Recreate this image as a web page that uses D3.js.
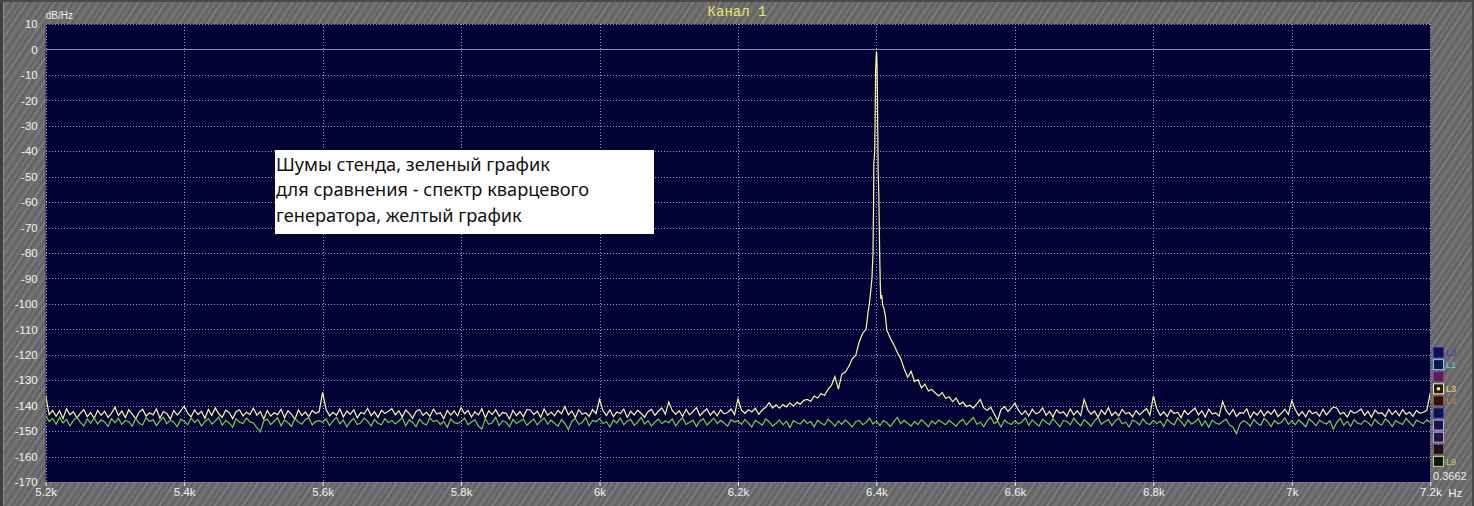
<!DOCTYPE html>
<html>
<head>
<meta charset="utf-8">
<script src="https://cdn.jsdelivr.net/npm/d3@7"></script>
<style>
  html, body { margin: 0; padding: 0; background: #6c6c6c; }
  svg { display: block; }
</style>
</head>
<body>
<svg id="chart" width="1474" height="506"></svg>
<script>
// ---------------- DATA ----------------
const chartTitle = "Канал 1";
const yUnit = "dB/Hz";
const xUnit = "Hz";
const resolutionLabel = "0.3662";
const annotationLines = [
  "Шумы стенда, зеленый график",
  "для сравнения - спектр кварцевого",
  "генератора, желтый график"
];
const xTicks = [5200, 5400, 5600, 5800, 6000, 6200, 6400, 6600, 6800, 7000, 7200];
const xTickLabels = ["5.2k", "5.4k", "5.6k", "5.8k", "6k", "6.2k", "6.4k", "6.6k", "6.8k", "7k", "7.2k"];
const yTicks = [10, 0, -10, -20, -30, -40, -50, -60, -70, -80, -90, -100, -110, -120, -130, -140, -150, -160, -170];
const legendNames = ["L0", "L1", "", "L3", "L4", "", "", "", "", "L9"];

// frequency grid of the noise traces (Hz)
const freqStart = 5200;
const freqStep = 5;

// yellow trace (quartz generator spectrum), dB/Hz, one row = 100 Hz
const yellowDb = [
  -136.0,-143.5,-141.8,-144.2,-142.0,-145.1,-141.2,-143.6,-142.4,-144.8,-143.0,-141.5,-144.3,-142.7,-145.0,-141.9,-143.8,-142.2,-144.6,-142.9,
  -140.6,-143.9,-142.1,-144.7,-141.6,-143.3,-145.2,-142.5,-141.4,-144.1,-142.8,-143.6,-141.3,-144.9,-142.3,-143.1,-145.3,-141.9,-143.7,-142.0,
  -140.2,-142.9,-144.4,-141.7,-143.5,-142.2,-145.0,-141.5,-143.8,-140.9,-143.2,-144.6,-141.8,-142.7,-145.1,-142.4,-141.6,-144.0,-142.6,-143.4,
  -141.0,-143.7,-142.3,-145.2,-141.9,-144.1,-142.8,-143.5,-141.4,-144.7,-142.0,-143.3,-145.4,-141.7,-143.9,-142.5,-144.3,-141.9,-143.0,-142.4,
  -134.8,-141.5,-144.0,-142.6,-143.8,-141.3,-144.5,-142.1,-143.4,-141.6,-144.8,-142.7,-143.2,-141.1,-143.9,-142.4,-144.6,-141.8,-143.1,-142.2,
  -141.2,-143.6,-142.0,-144.4,-141.7,-143.0,-145.0,-142.3,-141.5,-143.8,-142.6,-144.2,-141.4,-143.3,-142.8,-145.1,-141.9,-143.7,-142.1,-144.0,
  -140.8,-143.2,-141.9,-144.5,-142.4,-143.7,-141.2,-144.8,-142.0,-143.5,-141.6,-144.1,-142.7,-143.0,-145.2,-141.8,-143.9,-142.3,-144.4,-141.5,
  -141.7,-143.5,-142.2,-144.6,-141.3,-143.8,-142.5,-144.0,-141.9,-143.2,-140.3,-143.6,-142.1,-144.7,-141.6,-143.4,-142.8,-144.2,-141.5,-143.1,
  -137.5,-142.0,-143.9,-141.6,-144.3,-142.5,-143.1,-141.4,-144.6,-142.2,-143.7,-141.8,-143.0,-144.5,-142.4,-141.5,-143.8,-142.1,-140.9,-143.3,
  -138.6,-141.9,-143.4,-142.0,-144.2,-141.5,-143.6,-142.3,-140.8,-143.9,-142.5,-141.2,-143.7,-142.1,-144.0,-141.6,-143.2,-142.7,-141.3,-143.5,
  -137.4,-141.8,-143.0,-141.6,-142.5,-141.0,-143.4,-141.7,-140.6,-138.8,-140.9,-139.7,-141.0,-139.6,-140.5,-138.9,-140.2,-138.7,-139.4,-137.9,
  -137.5,-138.3,-136.2,-137.0,-135.2,-136.0,-133.6,-132.0,-128.6,-133.5,-127.6,-126.8,-124.6,-121.6,-120.3,-115.0,-111.6,-110.2,-103.0,-90.0,
  -1.0,-97.0,-101.0,-110.0,-113.5,-116.0,-119.0,-121.5,-125.5,-128.8,-126.5,-130.5,-129.8,-133.0,-131.5,-134.2,-133.6,-135.0,-136.2,-134.8,
  -137.2,-136.5,-138.4,-137.0,-139.5,-138.6,-140.4,-139.8,-141.0,-139.3,-137.6,-140.9,-141.8,-140.6,-143.2,-145.8,-141.5,-140.4,-142.3,-140.8,
  -139.0,-141.8,-143.5,-142.0,-144.1,-141.4,-143.2,-142.6,-140.9,-143.8,-142.2,-144.5,-141.6,-143.0,-142.4,-144.2,-141.3,-143.6,-142.0,-143.9,
  -137.6,-141.6,-143.3,-142.1,-144.6,-141.8,-143.4,-140.8,-143.9,-142.5,-144.0,-141.5,-143.2,-142.7,-144.4,-141.9,-143.6,-142.3,-141.1,-143.7,
  -136.2,-141.2,-143.8,-142.4,-144.3,-141.7,-143.1,-142.6,-144.7,-141.9,-143.5,-142.2,-140.9,-143.6,-142.0,-144.5,-141.4,-143.3,-142.8,-144.1,
  -138.3,-142.0,-143.6,-141.5,-144.2,-142.7,-143.0,-141.3,-144.8,-142.5,-143.7,-141.8,-144.0,-142.2,-143.4,-141.6,-144.3,-142.9,-141.4,-143.5,
  -138.0,-141.6,-143.9,-142.3,-144.4,-141.8,-143.2,-142.5,-144.1,-141.4,-143.6,-142.0,-140.5,-141.0,-143.3,-142.6,-144.5,-141.9,-143.0,-142.4,
  -141.3,-143.8,-142.2,-144.6,-141.7,-143.1,-142.8,-144.3,-141.5,-143.5,-142.0,-144.0,-141.6,-143.4,-142.5,-144.2,-141.9,-143.0,-142.6,-141.8,
  -135.0
];

// fine detail of the carrier peak (Hz, dB/Hz)
const peakFreqs = [6385, 6388, 6390, 6392, 6393.5, 6395, 6395.8, 6396.2, 6397.5, 6398.2, 6398.8, 6399.5, 6400,
                   6400.5, 6401.2, 6401.8, 6402.4, 6403.6, 6404.6, 6405.5, 6406.2, 6407.5, 6409, 6411, 6413, 6415, 6417];
const peakDb    = [-110.0, -103.0, -99.5, -94.0, -90.0, -80.0, -62.0, -45.0, -40.0, -25.0, -8.0, -3.0, -0.8,
                   -2.5, -12.0, -30.0, -47.0, -60.0, -80.0, -92.0, -98.0, -96.5, -100.5, -102.0, -105.0, -110.5, -111.5];

// green trace (test bench noise), dB/Hz, one row = 100 Hz
const greenDb = [
  -143.8,-146.2,-145.0,-147.3,-144.6,-146.8,-145.4,-147.9,-145.9,-144.5,-146.6,-148.0,-145.2,-146.9,-144.8,-147.2,-145.6,-146.4,-148.2,-145.1,
  -146.7,-144.9,-147.4,-145.8,-146.3,-148.1,-145.0,-146.9,-147.6,-144.7,-146.2,-145.5,-147.8,-146.0,-144.6,-147.1,-145.7,-146.5,-148.3,-145.3,
  -146.1,-147.5,-144.8,-146.6,-145.4,-148.0,-146.3,-145.1,-147.2,-146.0,-144.5,-147.7,-145.8,-146.8,-148.4,-145.2,-146.5,-147.0,-144.9,-146.4,
  -146.8,-148.6,-150.2,-146.0,-145.3,-147.4,-146.1,-144.8,-147.9,-145.6,-146.7,-148.1,-145.0,-146.4,-147.3,-145.5,-144.7,-147.6,-146.2,-145.9,
  -146.5,-145.2,-147.8,-146.0,-144.6,-147.1,-145.7,-148.3,-146.3,-145.0,-147.4,-146.8,-144.9,-146.1,-148.0,-145.4,-146.9,-147.5,-145.1,-146.6,
  -145.8,-147.2,-146.0,-144.7,-147.9,-145.5,-146.6,-148.2,-145.3,-146.9,-147.6,-144.8,-146.3,-145.7,-147.4,-146.1,-148.5,-145.2,-146.7,-147.0,
  -146.2,-144.9,-147.5,-146.4,-145.6,-148.0,-149.2,-145.1,-147.3,-146.7,-144.6,-147.8,-145.9,-146.5,-148.3,-145.4,-147.0,-146.1,-145.3,-147.7,
  -146.4,-145.2,-147.6,-146.0,-144.8,-147.3,-145.7,-146.9,-148.1,-145.5,-147.0,-149.4,-146.2,-145.0,-147.4,-146.6,-144.7,-147.9,-145.8,-146.3,
  -145.1,-147.0,-146.3,-148.4,-145.6,-146.8,-144.9,-147.5,-146.1,-145.4,-147.7,-146.5,-144.6,-147.2,-145.9,-148.0,-146.4,-145.3,-147.1,-146.0,
  -146.7,-145.2,-147.9,-146.1,-144.8,-147.4,-146.5,-145.7,-148.2,-146.0,-145.1,-147.6,-146.3,-144.9,-147.0,-145.8,-146.8,-148.1,-145.5,-146.4,
  -146.0,-147.3,-145.4,-146.9,-148.4,-145.8,-146.6,-147.7,-145.2,-146.3,-148.0,-146.9,-145.6,-147.5,-146.1,-148.6,-145.9,-146.7,-147.2,-145.5,
  -147.0,-146.2,-148.3,-145.7,-146.8,-147.6,-145.3,-146.5,-148.1,-146.0,-147.3,-145.6,-146.9,-148.4,-146.3,-145.8,-147.5,-146.6,-144.9,-147.2,
  -146.1,-147.8,-145.9,-146.7,-148.2,-146.4,-144.6,-147.1,-145.8,-146.9,-148.0,-146.2,-147.4,-145.5,-146.8,-148.3,-146.0,-147.2,-145.7,-146.6,
  -147.5,-145.8,-146.9,-148.1,-146.3,-145.4,-147.6,-146.0,-144.7,-147.3,-146.5,-148.2,-145.9,-144.5,-147.0,-146.1,-148.4,-145.6,-146.8,-147.4,
  -145.9,-147.2,-146.4,-144.8,-147.7,-145.6,-146.9,-148.0,-145.3,-146.5,-147.4,-145.1,-146.8,-148.3,-145.8,-146.2,-147.5,-144.9,-146.6,-147.9,
  -145.4,-146.7,-148.1,-145.9,-144.6,-147.3,-146.2,-145.5,-147.8,-146.0,-144.9,-147.1,-146.5,-148.4,-145.7,-146.3,-147.6,-145.2,-146.9,-147.4,
  -145.8,-147.0,-146.1,-148.2,-145.4,-146.7,-147.5,-144.8,-146.3,-148.0,-145.6,-147.2,-146.4,-145.1,-147.9,-146.0,-148.5,-145.7,-146.8,-147.3,
  -146.2,-145.3,-147.6,-148.4,-151.0,-147.2,-145.9,-146.6,-148.1,-145.4,-146.9,-147.7,-145.0,-146.3,-148.2,-145.8,-147.1,-146.5,-144.8,-147.4,
  -146.0,-147.5,-145.6,-146.8,-148.3,-145.2,-146.4,-147.9,-145.7,-146.6,-147.2,-145.9,-149.3,-146.5,-145.1,-147.7,-146.2,-148.1,-145.5,-146.9,
  -147.3,-145.8,-146.6,-148.0,-145.4,-146.9,-147.6,-145.2,-146.3,-148.2,-145.9,-146.7,-147.4,-145.0,-146.5,-148.1,-145.7,-146.4,-147.0,-145.6,
  -146.5
];

// ---------------- DRAWING ----------------
const W = 1474, H = 506;
const plot = { left: 45.7, right: 1430.3, top: 24, bottom: 482 };

const svg = d3.select("#chart");
const defs = svg.append("defs");

// textured grey background
const pat = defs.append("pattern")
  .attr("id", "bgtex").attr("patternUnits", "userSpaceOnUse")
  .attr("width", 23).attr("height", 40)
  .attr("patternTransform", "rotate(34)");
pat.append("rect").attr("width", 23).attr("height", 40).attr("fill", "#6a6a6a");
[[0, 2, "#7c7c7c"], [3, 1, "#5d5d5d"], [6, 3, "#737373"], [10, 1, "#606060"], [13, 2, "#797979"],
 [16, 1, "#626262"], [18, 2, "#717171"], [21, 1, "#5e5e5e"]]
  .forEach(([x0, w, c]) => pat.append("rect").attr("x", x0).attr("y", 0).attr("width", w).attr("height", 40).attr("fill", c));

svg.append("rect").attr("width", W).attr("height", H).attr("fill", "url(#bgtex)");
// outer frame
svg.append("rect").attr("x", 0).attr("y", 0).attr("width", 3).attr("height", H).attr("fill", "#3e3e3e");
svg.append("line").attr("x1", 3.5).attr("x2", 3.5).attr("y1", 0).attr("y2", H).attr("stroke", "#8c8c8c");
svg.append("rect").attr("x", 0).attr("y", 0).attr("width", W).attr("height", 2).attr("fill", "#4a4a4a");
svg.append("rect").attr("x", W - 2).attr("y", 0).attr("width", 2).attr("height", H).attr("fill", "#4a4a4a");

const x = d3.scaleLinear().domain([5200, 7200]).range([plot.left, plot.right]);
const y = d3.scaleLinear().domain([-170, 10]).range([plot.bottom, plot.top]);

// plot background
svg.append("rect")
  .attr("x", plot.left).attr("y", plot.top)
  .attr("width", plot.right - plot.left).attr("height", plot.bottom - plot.top)
  .attr("fill", "#010136");

const gridColor = "#8f95d6";
const grid = svg.append("g").attr("shape-rendering", "crispEdges");
grid.selectAll("line.h").data(yTicks.filter(d => d !== 0)).join("line")
  .attr("x1", plot.left).attr("x2", plot.right)
  .attr("y1", d => Math.round(y(d)) + 0.5).attr("y2", d => Math.round(y(d)) + 0.5)
  .attr("stroke", gridColor).attr("stroke-dasharray", "1,2");
grid.selectAll("line.v").data(xTicks).join("line")
  .attr("x1", d => Math.round(x(d)) + 0.5).attr("x2", d => Math.round(x(d)) + 0.5)
  .attr("y1", plot.top).attr("y2", plot.bottom)
  .attr("stroke", gridColor).attr("stroke-dasharray", "1,2");
grid.append("line")
  .attr("x1", plot.left).attr("x2", plot.right)
  .attr("y1", Math.round(y(0)) + 0.5).attr("y2", Math.round(y(0)) + 0.5)
  .attr("stroke", "#8a90bc").attr("stroke-width", 1.2);

// traces
const greenPts = greenDb.map((v, i) => [freqStart + i * freqStep, v]);
const yellowPts = yellowDb
  .map((v, i) => [freqStart + i * freqStep, v])
  .filter(d => !(d[0] > 6383 && d[0] < 6418))
  .concat(peakFreqs.map((f, i) => [f, peakDb[i]]))
  .sort((a, b) => a[0] - b[0]);

const line = d3.line().x(d => x(d[0])).y(d => y(d[1]));
const clip = defs.append("clipPath").attr("id", "plotclip");
clip.append("rect").attr("x", plot.left).attr("y", plot.top)
  .attr("width", plot.right - plot.left).attr("height", plot.bottom - plot.top);

const traces = svg.append("g").attr("clip-path", "url(#plotclip)");
traces.append("path").datum(yellowPts).attr("d", line)
  .attr("fill", "none").attr("stroke", "#f4f49c").attr("stroke-width", 1.25).attr("stroke-linejoin", "miter");
traces.append("path").datum(greenPts).attr("d", line)
  .attr("fill", "none").attr("stroke", "#68d044").attr("stroke-width", 1.25);

// axes
const yAxis = svg.append("g")
  .attr("transform", `translate(${plot.left},0)`)
  .call(d3.axisLeft(y).tickValues(yTicks).tickFormat(d => d).tickSize(0).tickPadding(8));
yAxis.select(".domain").remove();
yAxis.selectAll("text").attr("fill", "#f2f2f2")
  .style("font-family", "'Liberation Sans', Arial, sans-serif").style("font-size", "11.5px");

const xAxis = svg.append("g")
  .attr("transform", `translate(0,${plot.bottom})`)
  .call(d3.axisBottom(x).tickValues(xTicks).tickFormat((d, i) => xTickLabels[i]).tickSize(4).tickPadding(2));
xAxis.select(".domain").remove();
xAxis.selectAll("line").attr("stroke", "#f0f0f0");
xAxis.selectAll("text").attr("fill", "#f2f2f2")
  .style("font-family", "'Liberation Sans', Arial, sans-serif").style("font-size", "11.5px");

svg.append("text").attr("x", plot.right + 18).attr("y", 496.5)
  .attr("fill", "#f2f2f2").style("font-family", "'Liberation Sans', Arial, sans-serif").style("font-size", "11.5px")
  .text(xUnit);

svg.append("text").attr("x", plot.left).attr("y", 19)
  .attr("fill", "#f2f2f2").style("font-family", "'Liberation Sans', Arial, sans-serif").style("font-size", "10px")
  .text(yUnit);

svg.append("text").attr("x", 737).attr("y", 16).attr("text-anchor", "middle")
  .attr("fill", "#e8e864").style("font-family", "'Liberation Mono', 'DejaVu Sans Mono', monospace").style("font-size", "14px")
  .text(chartTitle);

// legend column
const legendColors = [
  { stroke: "#3434a8", fill: "#0e0e5c", text: "#3a3ab8" },
  { stroke: "#86c8f0", fill: "#0a1a44", text: "#6cc0ea" },
  { stroke: "#8a3a8c", fill: "#5c1a5e", text: "#a050a0" },
  { stroke: "#f2f2a8", fill: "#1c1c10", text: "#e8e070" },
  { stroke: "#a05434", fill: "#2c1010", text: "#d08040" },
  { stroke: "#3444c2", fill: "#10104c", text: "#3444c2" },
  { stroke: "#b0b0f0", fill: "#161646", text: "#b0b0f0" },
  { stroke: "#c4a4e4", fill: "#1e1840", text: "#c4a4e4" },
  { stroke: "#845454", fill: "#1e1018", text: "#845454" },
  { stroke: "#c4d484", fill: "#0e160e", text: "#c0d060" }
];
const leg = svg.append("g");
const legItems = leg.selectAll("g").data(legendNames).join("g")
  .attr("transform", (d, i) => `translate(1433.5,${347.5 + i * 12.1})`);
legItems.append("rect").attr("width", 10).attr("height", 10)
  .attr("fill", (d, i) => legendColors[i].fill)
  .attr("stroke", (d, i) => legendColors[i].stroke);
legItems.filter((d, i) => i === 3).append("circle")
  .attr("cx", 5).attr("cy", 5).attr("r", 1.8).attr("fill", "#ffff90");
legItems.append("text").attr("x", 12.5).attr("y", 8.5)
  .attr("fill", (d, i) => legendColors[i].text)
  .style("font-family", "'Liberation Sans', Arial, sans-serif").style("font-size", "9px")
  .text(d => d);

svg.append("text").attr("x", 1433).attr("y", 479.5)
  .attr("fill", "#ececec").style("font-family", "'Liberation Sans', Arial, sans-serif").style("font-size", "11px")
  .text(resolutionLabel);

// annotation box
const ann = svg.append("g");
ann.append("rect").attr("x", 275).attr("y", 150).attr("width", 379).attr("height", 84).attr("fill", "#ffffff");
const annText = ann.selectAll("text").data(annotationLines).join("text")
  .attr("x", 276).attr("y", (d, i) => 170.5 + i * 25.6)
  .attr("fill", "#111111")
  .style("font-family", "'Noto Sans', 'Open Sans', sans-serif").style("font-size", "17px")
  .text(d => d);
const len0 = annText.node().getComputedTextLength();
const fs = 17 * 274 / len0;
annText.style("font-size", fs.toFixed(2) + "px");
</script>
</body>
</html>
